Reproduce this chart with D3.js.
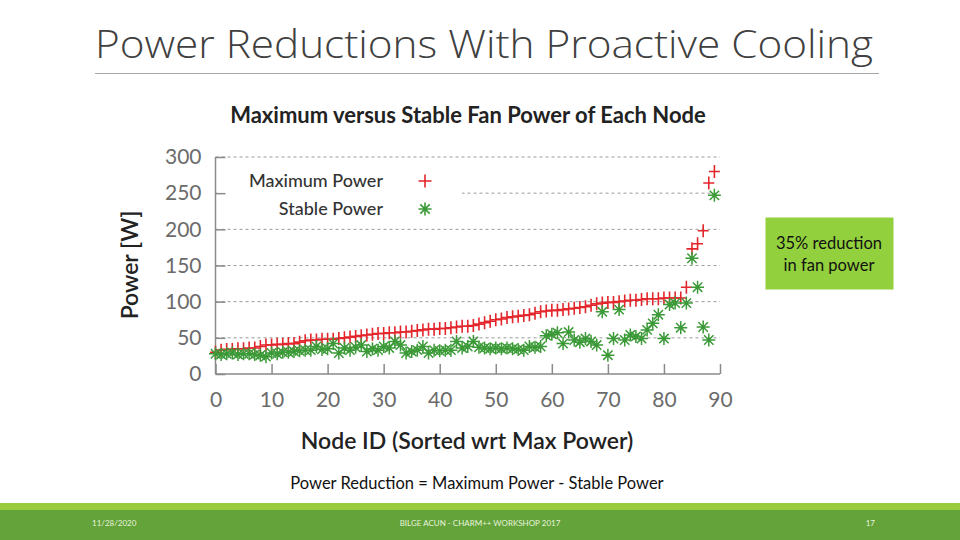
<!DOCTYPE html>
<html><head><meta charset="utf-8">
<script src="https://cdn.jsdelivr.net/npm/d3@7"></script>
<style>body{margin:0;background:#fff}svg{display:block}</style>
</head><body>
<script>
const nodeIds = d3.range(0, 90);
const maxPower = [30,33,34,34,35,35,36,36,38,40,40,41,41,42,42,44,46,47,47,48,48,48,49,50,51,52,53,54,55,56,56,57,57,58,58,59,60,61,62,62,63,63,64,65,66,66,67,69,71,73,75,76,78,79,80,81,82,84,86,87,88,88,89,90,91,92,93,95,97,98,99,99,100,101,102,102,103,104,104,104,105,105,105,105,120,173,180,198,264,280];
const stablePower = [28,27,28,29,27,28,28,27,26,24,29,28,30,30,31,32,33,33,38,34,35,42,29,36,33,37,40,31,35,33,38,36,45,40,29,31,33,38,29,33,32,33,33,45,36,38,45,37,36,35,36,35,36,35,34,33,38,37,38,53,55,57,42,58,47,44,49,45,40,86,26,49,89,47,54,52,49,61,70,82,49,96,98,64,98,160,120,65,47,247];
const yTicks = [0,50,100,150,200,250,300];
const xTicks = [0,10,20,30,40,50,60,70,80,90];
const seriesNames = ["Maximum Power","Stable Power"];

const W=960,H=540;
const svg=d3.select("body").append("svg").attr("width",W).attr("height",H);
const red="#e3262b", green="#3b9a37", axisCol="#8a8a8a";

// slide title
svg.append("text").attr("x",95).attr("y",58).text("Power Reductions With Proactive Cooling")
  .attr("font-family","Open Sans, Lato, sans-serif").attr("font-weight",300).attr("font-size",38).attr("fill","#404040")
  .attr("textLength",778).attr("lengthAdjust","spacingAndGlyphs");
svg.append("line").attr("x1",95).attr("x2",879).attr("y1",73.5).attr("y2",73.5).attr("stroke","#a6a6a6").attr("stroke-width",1);

const x=d3.scaleLinear().domain([0,90]).range([215.5,720]);
const y=d3.scaleLinear().domain([0,300]).range([374,157]);
const font="Lato, 'Open Sans', sans-serif";

// chart title
svg.append("text").attr("x",468).attr("y",123).attr("text-anchor","middle").text("Maximum versus Stable Fan Power of Each Node")
  .attr("font-family",font).attr("font-weight",700).attr("font-size",22).attr("fill","#222");

// grid
svg.append("g").selectAll("line").data(yTicks.filter(d=>d>0)).join("line")
  .attr("x1",x(0)).attr("x2",x(90)).attr("y1",d=>y(d)).attr("y2",d=>y(d))
  .attr("stroke","#9a9a9a").attr("stroke-width",1).attr("stroke-dasharray","3,3");

// legend background
svg.append("rect").attr("x",217).attr("y",163).attr("width",245).attr("height",58).attr("fill","#fff");

// axes
const yAxis=d3.axisLeft(y).tickValues(yTicks).tickSize(-10).tickPadding(14);
const ya=svg.append("g").attr("transform",`translate(${x(0)},0)`).call(yAxis);
ya.selectAll("text").attr("font-family",font).attr("font-size",21).attr("fill","#6b6b6b");
ya.select(".domain").attr("stroke",axisCol).attr("stroke-width",1.5).attr("d",`M0,${y(300)}V${y(0)}`);
ya.selectAll(".tick line").attr("stroke",axisCol).attr("stroke-width",1.5);

const xAxis=d3.axisBottom(x).tickValues(xTicks).tickSize(-10).tickPadding(18);
const xa=svg.append("g").attr("transform",`translate(0,${y(0)})`).call(xAxis);
xa.selectAll("text").attr("font-family",font).attr("font-size",21).attr("fill","#6b6b6b");
xa.select(".domain").attr("stroke",axisCol).attr("stroke-width",1.5).attr("d",`M${x(0)},0H${x(90)}`);
xa.selectAll(".tick line").attr("stroke",axisCol).attr("stroke-width",1.5);

// axis labels
svg.append("text").attr("transform","translate(138,265) rotate(-90)").attr("text-anchor","middle").text("Power [W]")
  .attr("font-family",font).attr("font-weight",600).attr("font-size",23).attr("fill","#222");
svg.append("text").attr("x",467).attr("y",449).attr("text-anchor","middle").text("Node ID (Sorted wrt Max Power)")
  .attr("font-family",font).attr("font-weight",600).attr("font-size",23).attr("fill","#222");

// marker shapes
function plus(s,v){v=v||s;return `M${-s},0H${s}M0,${-v}V${v}`;}
function star(s){const d=s*0.72;return `M${-s},0H${s}M0,${-s}V${s}M${-d},${-d}L${d},${d}M${-d},${d}L${d},${-d}`;}

const pts=nodeIds.map((n,i)=>({n,max:maxPower[i],stable:stablePower[i]}));
svg.append("g").selectAll("path").data(pts).join("path")
  .attr("transform",d=>`translate(${x(d.n)},${y(d.max)})`).attr("d",plus(5.5,6.5))
  .attr("stroke",red).attr("stroke-width",1.6).attr("fill","none");
svg.append("g").selectAll("path").data(pts).join("path")
  .attr("transform",d=>`translate(${x(d.n)},${y(d.stable)})`).attr("d",star(6.5))
  .attr("stroke",green).attr("stroke-width",1.5).attr("fill","none");

// legend
const leg=[{name:seriesNames[0],yy:181,shape:plus(6.5),col:red},{name:seriesNames[1],yy:209,shape:star(6.5),col:green}];
leg.forEach(l=>{
  svg.append("text").attr("x",383).attr("y",l.yy+6).attr("text-anchor","end").text(l.name)
    .attr("font-family",font).attr("font-weight",500).attr("font-size",18).attr("fill","#333");
  svg.append("path").attr("transform",`translate(425,${l.yy})`).attr("d",l.shape).attr("stroke",l.col).attr("stroke-width",1.6).attr("fill","none");
});

// callout
svg.append("rect").attr("x",765).attr("y",217).attr("width",129).attr("height",73).attr("fill","#92d03d").attr("stroke","#fff").attr("stroke-width",1);
[["35% reduction",248.5],["in fan power",270.5]].forEach(([t,yy])=>{
  svg.append("text").attr("x",829).attr("y",yy).attr("text-anchor","middle").text(t)
    .attr("font-family",font).attr("font-size",16.5).attr("fill","#111");
});

svg.append("text").attr("x",477).attr("y",489).attr("text-anchor","middle").text("Power Reduction = Maximum Power - Stable Power")
  .attr("font-family",font).attr("font-size",16.5).attr("fill","#111");

// footer
svg.append("rect").attr("x",0).attr("y",503).attr("width",W).attr("height",8).attr("fill","#9acb3c");
svg.append("rect").attr("x",0).attr("y",510).attr("width",W).attr("height",30).attr("fill","#63a33a");
[["11/28/2020",92,"start"],["BILGE ACUN - CHARM++ WORKSHOP 2017",480,"middle"],["17",875,"end"]].forEach(([t,xx,a])=>{
  svg.append("text").attr("x",xx).attr("y",526).attr("text-anchor",a).text(t)
    .attr("font-family",font).attr("font-size",8).attr("fill","#e8f3dc");
});
</script>
</body></html>
